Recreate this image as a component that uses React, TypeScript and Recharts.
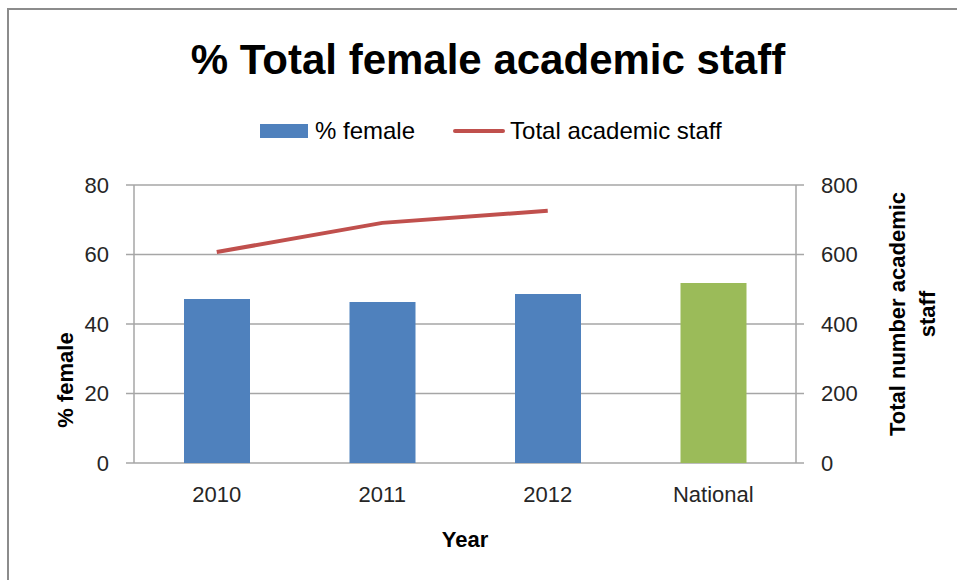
import React from 'react';
import { ComposedChart, Bar, Line, XAxis, YAxis, CartesianGrid, Legend, Cell } from 'recharts';

const categories = ['2010', '2011', '2012', 'National'];
const femalePct = [47.2, 46.3, 48.6, 51.8];
const totalStaff: (number | null)[] = [607, 691, 726, null];
const leftTicks = [0, 20, 40, 60, 80];
const rightTicks = [0, 200, 400, 600, 800];
const edgeTicks = [0, 1, 2, 3, 4];
const barColors = ['#4F81BD', '#4F81BD', '#4F81BD', '#9BBB59'];

const data = categories.map((name, i) => ({ name, female: femalePct[i], total: totalStaff[i] }));

const FONT = '"Liberation Sans", Arial, sans-serif';
const AXIS_GRAY = '#a6a6a6';

const LeftLabel = (props: any) => {
  const vb = props.viewBox || {};
  const cx = vb.x + vb.width / 2 - 2;
  const cy = vb.y + vb.height / 2 + 56;
  return (
    <text x={cx} y={cy} transform={`rotate(-90, ${cx}, ${cy})`} textAnchor="middle" dominantBaseline="central"
      style={{ fontFamily: FONT, fontWeight: 'bold', fontSize: 22, fill: '#000' }}>
      % female
    </text>
  );
};

const RightLabel = (props: any) => {
  const vb = props.viewBox || {};
  const cy = vb.y + vb.height / 2 - 10;
  const x1 = vb.x + 101;
  const x2 = vb.x + 131;
  const style = { fontFamily: FONT, fontWeight: 'bold' as const, fontSize: 22, fill: '#000' };
  return (
    <g>
      <text x={x1} y={cy} transform={`rotate(-90, ${x1}, ${cy})`} textAnchor="middle" dominantBaseline="central" style={style}>
        Total number academic
      </text>
      <text x={x2} y={cy} transform={`rotate(-90, ${x2}, ${cy})`} textAnchor="middle" dominantBaseline="central" style={style}>
        staff
      </text>
    </g>
  );
};

const LegendContent = () => (
  <div style={{ display: 'flex', alignItems: 'center', fontFamily: FONT, fontSize: 24, color: '#000', whiteSpace: 'nowrap' }}>
    <span style={{ display: 'inline-block', width: 48, height: 14, background: '#4F81BD', marginRight: 7 }} />
    <span>% female</span>
    <span style={{ display: 'inline-block', width: 52, height: 4, background: '#C0504D', marginLeft: 38, marginRight: 5, borderRadius: 2 }} />
    <span>Total academic staff</span>
  </div>
);

export default function App() {
  return (
    <div style={{ position: 'absolute', left: 0, top: 0, width: 957, height: 580, background: '#fff', overflow: 'hidden' }}>
      <div style={{ position: 'absolute', left: 7, top: 8, right: -4, bottom: -4, borderLeft: '2px solid #8c8c8c', borderTop: '2px solid #8c8c8c' }} />
      <div style={{ position: 'absolute', left: 0, top: 35, width: 957, paddingLeft: 19, boxSizing: 'border-box', textAlign: 'center', fontFamily: FONT, fontWeight: 'bold', fontSize: 42, lineHeight: '50px', color: '#000' }}>
        % Total female academic staff
      </div>
      <div style={{ position: 'absolute', left: 0, top: 0 }}>
        <ComposedChart width={957} height={580} data={data} margin={{ top: 185, right: 0, bottom: 0, left: 0 }}>
          <CartesianGrid horizontal vertical={false} stroke={AXIS_GRAY} strokeWidth={1.5} yAxisId="left" />
          <XAxis xAxisId={0} type="number" domain={[0, 4]} ticks={edgeTicks} tick={false} height={0}
            axisLine={{ stroke: AXIS_GRAY, strokeWidth: 1.5 }} tickLine={{ stroke: AXIS_GRAY, strokeWidth: 1.5 }} tickSize={8} allowDataOverflow />
          <XAxis xAxisId={1} dataKey="name" height={117} axisLine={false} tickLine={false} tickSize={6} tickMargin={17}
            tick={{ fontFamily: FONT, fontSize: 22, fill: '#262626' }} interval={0}
            label={{ value: 'Year', position: 'insideBottom', offset: 33, style: { fontFamily: FONT, fontWeight: 'bold', fontSize: 22, fill: '#000' } }} />
          <YAxis yAxisId="left" width={134} domain={[0, 80]} ticks={leftTicks} tickSize={8} tickMargin={17}
            axisLine={{ stroke: AXIS_GRAY, strokeWidth: 1.5 }} tickLine={{ stroke: AXIS_GRAY, strokeWidth: 1.5 }}
            tick={{ fontFamily: FONT, fontSize: 22, fill: '#262626' }} label={{ content: LeftLabel }} />
          <YAxis yAxisId="right" orientation="right" width={161} domain={[0, 800]} ticks={rightTicks} tickSize={8} tickMargin={17}
            axisLine={{ stroke: AXIS_GRAY, strokeWidth: 1.5 }} tickLine={{ stroke: AXIS_GRAY, strokeWidth: 1.5 }}
            tick={{ fontFamily: FONT, fontSize: 22, fill: '#262626' }} label={{ content: RightLabel }} />
          <Legend verticalAlign="middle" align="center" layout="horizontal" content={LegendContent}
            wrapperStyle={{ top: 117, left: 260 }} />
          <Bar xAxisId={1} yAxisId="left" dataKey="female" name="% female" barSize={66} isAnimationActive={false}>
            {data.map((d, i) => (
              <Cell key={d.name} fill={barColors[i]} />
            ))}
          </Bar>
          <Line xAxisId={1} yAxisId="right" dataKey="total" name="Total academic staff" stroke="#C0504D" strokeWidth={4}
            dot={false} activeDot={false} isAnimationActive={false} connectNulls={false} />
        </ComposedChart>
      </div>
    </div>
  );
}
